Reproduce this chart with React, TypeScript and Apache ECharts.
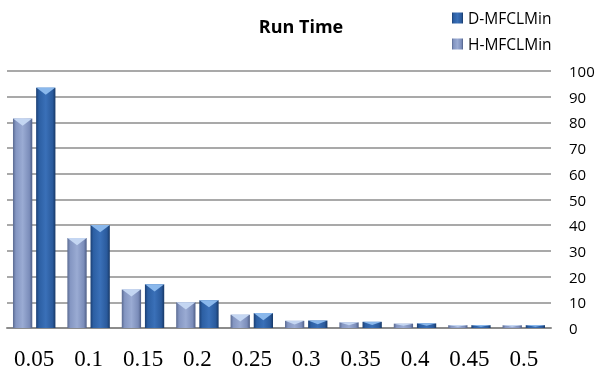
import React, { useEffect, useRef } from "react";
import * as echarts from "echarts";

const categories = ["0.05", "0.1", "0.15", "0.2", "0.25", "0.3", "0.35", "0.4", "0.45", "0.5"];
const hValues = [81.5, 35, 15, 10, 5.2, 2.8, 2.2, 1.7, 1.1, 1.1];
const dValues = [93.5, 40, 17, 10.8, 5.8, 2.9, 2.4, 1.8, 1.1, 1.1];
const yTicks = { min: 0, max: 100, interval: 10 };

const hGrad = new echarts.graphic.LinearGradient(0, 0, 1, 0, [
  { offset: 0, color: "#5a6a91" },
  { offset: 0.15, color: "#8496c2" },
  { offset: 0.5, color: "#9aabd3" },
  { offset: 0.85, color: "#7b8dba" },
  { offset: 1, color: "#4e5e86" },
]);
const dGrad = new echarts.graphic.LinearGradient(0, 0, 1, 0, [
  { offset: 0, color: "#1b3f73" },
  { offset: 0.15, color: "#2c5fa3" },
  { offset: 0.5, color: "#3a70b8" },
  { offset: 0.85, color: "#2a5a9c" },
  { offset: 1, color: "#173866" },
]);

// cap triangles: height limited so tiny bars don't overflow
const capItems = (vals: number[]) =>
  vals.map((v) => ({ value: v, symbolSize: ["100%", Math.min(7, v * 2.58 * 0.5)] }));

export default function App() {
  const ref = useRef<HTMLDivElement>(null);
  useEffect(() => {
    const chart = echarts.init(ref.current!, undefined, { renderer: "svg" });
    const barCommon = {
      barGap: "20%",
      barCategoryGap: "22%",
    };
    chart.setOption({
      animation: false,
      title: {
        text: "Run Time",
        left: 296,
        top: 12,
        textAlign: "center",
        textStyle: { fontFamily: "Open Sans", fontSize: 18, fontWeight: "bold", color: "#000" },
      },
      legend: {
        data: ["D-MFCLMin", "H-MFCLMin"],
        orient: "vertical",
        left: 447,
        top: 5,
        itemWidth: 11,
        itemHeight: 11,
        itemGap: 10,
        icon: "rect",
        textStyle: { fontFamily: "Open Sans", fontSize: 15.5, color: "#000" },
      },
      grid: { left: 7, right: 47, top: 71, bottom: 50, containLabel: false, outerBoundsMode: "none" },
      xAxis: {
        type: "category",
        data: categories,
        axisTick: { show: false },
        axisLine: { show: true, lineStyle: { color: "#8c8c8c", width: 2 } },
        axisLabel: { fontFamily: "Liberation Serif", fontSize: 23, color: "#000", margin: 19 },
      },
      yAxis: {
        type: "value",
        position: "right",
        min: yTicks.min,
        max: yTicks.max,
        interval: yTicks.interval,
        axisLine: { show: false },
        axisTick: { show: false },
        splitLine: { lineStyle: { color: "#8c8c8c", width: 1.5 } },
        axisLabel: { fontFamily: "Open Sans", fontSize: 15, color: "#000", margin: 18 },
      },
      series: [
        {
          name: "H-MFCLMin",
          type: "bar",
          data: hValues,
          ...barCommon,
          itemStyle: { color: hGrad },
        },
        {
          name: "D-MFCLMin",
          type: "bar",
          data: dValues,
          ...barCommon,
          itemStyle: { color: dGrad },
        },
        {
          name: "hcap",
          type: "pictorialBar",
          data: capItems(hValues),
          ...barCommon,
          symbol: "path://M0,0 L10,0 L5,5 Z",
          symbolPosition: "end",
          symbolOffset: [0, 0],
          silent: true,
          z: 5,
          itemStyle: { color: "#c4d6f2" },
        },
        {
          name: "dcap",
          type: "pictorialBar",
          data: capItems(dValues),
          ...barCommon,
          symbol: "path://M0,0 L10,0 L5,5 Z",
          symbolPosition: "end",
          symbolOffset: [0, 0],
          silent: true,
          z: 5,
          itemStyle: { color: "#8ab8ec" },
        },
      ],
    });
    return () => chart.dispose();
  }, []);
  return <div ref={ref} style={{ position: "fixed", left: 0, top: 0, width: 598, height: 378 }} />;
}
